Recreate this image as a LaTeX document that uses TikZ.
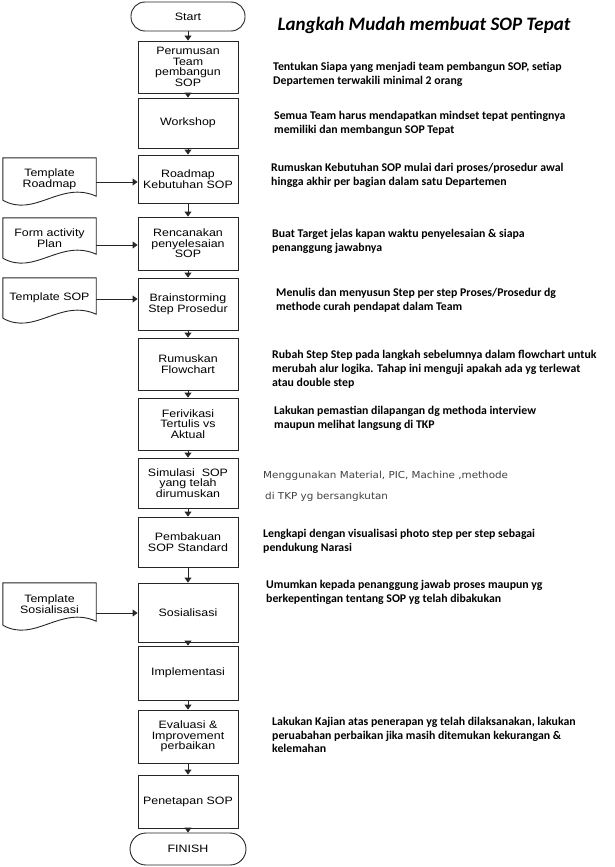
\documentclass[tikz,border=0pt]{standalone}
\usepackage{fontspec}
\usetikzlibrary{arrows.meta}
\newfontfamily\boxfont[FakeStretch=1.16]{Liberation Sans}
\newfontfamily\descfont{Carlito}
\newfontfamily\smallfont[FakeStretch=1.08]{DejaVu Sans}
\tikzset{
  proc/.style={draw=black!85, line width=0.9pt, rectangle, minimum width=100pt, inner sep=0pt, align=center,
    font=\boxfont\fontsize{10.7}{10.6}\selectfont},
  term/.style={proc, rounded corners=14pt},
  docnode/.style={rectangle, minimum width=93pt, inner sep=0pt, align=center,
    font=\boxfont\fontsize{10.7}{11.5}\selectfont},
  docline/.style={draw=black!85, line width=0.9pt},
  arr/.style={draw=black!85, line width=0.9pt, -{Triangle[length=5pt,width=7pt]}},
  desc/.style={anchor=west, align=left, inner sep=0pt,
    font=\descfont\bfseries\fontsize{11.8}{13.8}\selectfont},
  smalldesc/.style={anchor=west, inner sep=0pt, text=black!75,
    font=\smallfont\fontsize{9.6}{10}\selectfont},
}
\newcommand\docshape[1]{%
  \draw[docline] (#1.south west) -- (#1.north west) -- (#1.north east) -- ([yshift=4pt]#1.south east)
    .. controls ([xshift=-36pt,yshift=20pt]#1.south east) and ([xshift=32pt,yshift=-18pt]#1.south west) .. (#1.south west);}
\begin{document}
\begin{tikzpicture}[x=1pt,y=-1pt]
\useasboundingbox[fill=white] (0,0) rectangle (614,867);
% main column
\node[term, minimum width=114pt, minimum height=29pt] (start) at (188,16.5) {Start};
\node[proc, minimum height=52pt] (b1) at (188,67) {\raisebox{-1pt}{}Perumusan\\Team\\pembangun\\SOP};
\node[proc, minimum height=50pt] (b2) at (188,123) {Workshop};
\node[proc, minimum height=48pt] (b3) at (188,179) {Roadmap\\Kebutuhan SOP};
\node[proc, minimum height=53pt] (b4) at (188,243.5) {Rencanakan\\penyelesaian\\SOP};
\node[proc, minimum height=52pt] (b5) at (188,304) {Brainstorming\\Step Prosedur};
\node[proc, minimum height=52pt] (b6) at (188,364) {Rumuskan\\Flowchart};
\node[proc, minimum height=52pt] (b7) at (188,424) {Ferivikasi\\Tertulis vs\\Aktual};
\node[proc, minimum height=50pt] (b8) at (188,483) {Simulasi\ \ SOP\\yang telah\\dirumuskan};
\node[proc, minimum height=50pt] (b9) at (188,542) {Pembakuan\\SOP Standard};
\node[proc, minimum height=59pt] (b10) at (188,612.5) {Sosialisasi};
\node[proc, minimum height=54pt] (b11) at (188,673) {Implementasi};
\node[proc, minimum height=53pt] (b12) at (188,736.5) {Evaluasi \&\\Improvement\\perbaikan};
\node[proc, minimum height=53pt] (b13) at (188,801.5) {Penetapan SOP};
\node[term, minimum width=116pt, minimum height=32pt, rounded corners=16pt] (finish) at (188,849) {FINISH};
\foreach \a/\b in {start/b1,b1/b2,b2/b3,b3/b4,b4/b5,b5/b6,b6/b7,b7/b8,b8/b9,b9/b10,b10/b11,b11/b12,b12/b13,b13/finish}
  \draw[arr] (\a.south) -- (\b.north);
% documents
\node[docnode, minimum height=42pt] (d1) at (49.5,179) {Template\\Roadmap};
\node[docnode, minimum height=40pt] (d2) at (49.5,238) {Form activity\\Plan};
\node[docnode, minimum height=40pt] (d3) at (49.5,298) {Template SOP};
\node[docnode, minimum height=42pt] (d4) at (49.5,604) {Template\\Sosialisasi};
\docshape{d1}\docshape{d2}\docshape{d3}\docshape{d4}
\draw[arr] ([yshift=-3pt]d1.east) -- ([yshift=-3pt]d1.east -| b3.west);
\draw[arr] ([yshift=-7pt]d2.east) -- ([yshift=-7pt]d2.east -| b4.west);
\draw[arr] ([yshift=-1pt]d3.east) -- ([yshift=-1pt]d3.east -| b5.west);
\draw[arr] ([yshift=-9pt]d4.east) -- ([yshift=-9pt]d4.east -| b10.west);
% title
\node[font=\descfont\bfseries\itshape\fontsize{19}{24}\selectfont, inner sep=0pt] (title) at (424,25) {Langkah Mudah membuat SOP Tepat};
% descriptions
\node[desc] (t1) at (273,74) {Tentukan Siapa yang menjadi team pembangun SOP, setiap\\Departemen terwakili minimal 2 orang};
\node[desc] (t2) at (274,123.5) {Semua Team harus mendapatkan mindset tepat pentingnya\\memiliki dan membangun SOP Tepat};
\node[desc] (t3) at (271,175) {Rumuskan Kebutuhan SOP mulai dari proses/prosedur awal\\hingga akhir per bagian dalam satu Departemen};
\node[desc] (t4) at (272,241.5) {Buat Target jelas kapan waktu penyelesaian \& siapa\\penanggung jawabnya};
\node[desc] (t5) at (276,300) {Menulis dan menyusun Step per step Proses/Prosedur dg\\methode curah pendapat dalam Team};
\node[desc] (t6) at (272,369.5) {Rubah Step Step pada langkah sebelumnya dalam flowchart untuk\\merubah alur logika. Tahap ini menguji apakah ada yg terlewat\\atau double step};
\node[desc] (t7) at (274,418) {Lakukan pemastian dilapangan dg methoda interview\\maupun melihat langsung di TKP};
\node[smalldesc] (t8a) at (263,476) {Menggunakan Material, PIC, Machine ,methode};
\node[smalldesc] (t8b) at (265,497) {di TKP yg bersangkutan};
\node[desc] (t9) at (263,541.5) {Lengkapi dengan visualisasi photo step per step sebagai\\pendukung Narasi};
\node[desc] (t10) at (266,592.5) {Umumkan kepada penanggung jawab proses maupun yg\\berkepentingan tentang SOP yg telah dibakukan};
\node[desc] (t11) at (272,735) {Lakukan Kajian atas penerapan yg telah dilaksanakan, lakukan\\peruabahan perbaikan jika masih ditemukan kekurangan \&\\kelemahan};
\end{tikzpicture}
\end{document}
